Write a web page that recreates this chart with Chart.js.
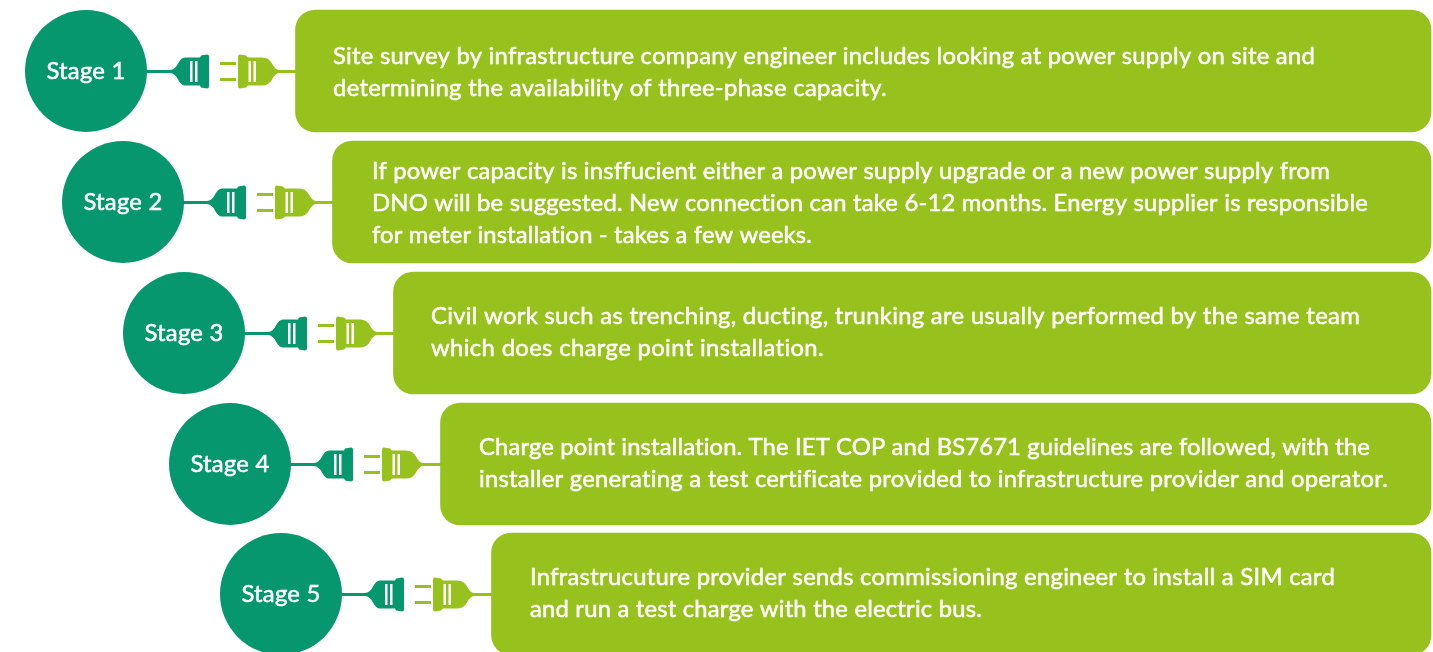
<!DOCTYPE html>
<html>
<head>
<meta charset="utf-8">
<title>Stages</title>
<script src="https://cdn.jsdelivr.net/npm/chart.js@4"></script>
<style>
    html, body { margin: 0; padding: 0; background: #fff; overflow: hidden; }
    canvas { display: block; }
</style>
</head>
<body>
<canvas id="stagechart" width="1433" height="652"></canvas>
<script>
const stageLabels = ['Stage 1', 'Stage 2', 'Stage 3', 'Stage 4', 'Stage 5'];
const stageX = [86, 123, 184, 230, 281];
const stageY = [71, 202, 333, 464, 594];
const boxStart = [295.5, 332.5, 393.5, 440.5, 491.5];
const boxEnd = [1431, 1431, 1431, 1431, 1431];
const textX = [333, 372, 431, 479, 530];
const textY = [[56.5, 88.5], [171.5, 203.5, 235.5], [316.5, 348.5], [447.5, 479.5], [577.5, 609.5]];
const textEnd = [[1315, 887], [1330, 1368, 812], [1360, 824], [1370, 1388], [1335, 982]];
const stageText = [
    ['Site survey by infrastructure company engineer includes looking at power supply on site and',
     'determining the availability of three-phase capacity.'],
    ['If power capacity is insffucient either a power supply upgrade or a new power supply from',
     'DNO will be suggested. New connection can take 6-12 months. Energy supplier is responsible',
     'for meter installation - takes a few weeks.'],
    ['Civil work such as trenching, ducting, trunking are usually performed by the same team',
     'which does charge point installation.'],
    ['Charge point installation. The IET COP and BS7671 guidelines are followed, with the',
     'installer generating a test certificate provided to infrastructure provider and operator.'],
    ['Infrastrucuture provider sends commissioning engineer to install a SIM card',
     'and run a test charge with the electric bus.']
];

const darkGreen = '#06976f';
const lightGreen = '#97c21e';
const fontName = 'Lato';

//Plug and socket between circle and box
const plugPlugin = {
    id: 'plugs',
    afterDatasetsDraw(chart) {
        const ctx = chart.ctx;
        stageX.forEach((sx, i) => {
            const x = chart.scales.x.getPixelForValue(sx);
            const y = chart.scales.y.getPixelForValue(stageY[i]) + 0.5;
            const p = (dx) => x + dx;

            //dark plug
            ctx.fillStyle = darkGreen;
            ctx.fillRect(p(60), y - 1.5, 27, 3);
            ctx.beginPath();
            ctx.moveTo(p(84), y - 1.5);
            ctx.quadraticCurveTo(p(89), y - 2, p(92), y - 8);
            ctx.quadraticCurveTo(p(95), y - 14, p(99), y - 14);
            ctx.lineTo(p(114), y - 14);
            ctx.lineTo(p(115), y - 16);
            ctx.lineTo(p(121), y - 17);
            ctx.quadraticCurveTo(p(123), y - 17, p(123), y - 15);
            ctx.lineTo(p(123), y + 15);
            ctx.quadraticCurveTo(p(123), y + 17, p(121), y + 17);
            ctx.lineTo(p(115), y + 16);
            ctx.lineTo(p(114), y + 14);
            ctx.lineTo(p(99), y + 14);
            ctx.quadraticCurveTo(p(95), y + 14, p(92), y + 8);
            ctx.quadraticCurveTo(p(89), y + 2, p(84), y + 1.5);
            ctx.closePath();
            ctx.fill();
            ctx.fillStyle = '#fff';
            ctx.fillRect(p(104), y - 10.5, 2.5, 21);
            ctx.fillRect(p(109), y - 10.5, 2.5, 21);

            //light plug with prongs
            ctx.fillStyle = lightGreen;
            ctx.fillRect(p(134), y - 9.5, 16, 3);
            ctx.fillRect(p(134), y + 6.5, 16, 3);
            ctx.fillRect(p(190), y - 1.5, 21, 3);
            ctx.beginPath();
            ctx.moveTo(p(193), y - 1.5);
            ctx.quadraticCurveTo(p(189), y - 2, p(186), y - 8);
            ctx.quadraticCurveTo(p(183), y - 14, p(176), y - 14);
            ctx.lineTo(p(162), y - 14);
            ctx.lineTo(p(160), y - 16);
            ctx.lineTo(p(154), y - 17);
            ctx.quadraticCurveTo(p(152), y - 17, p(152), y - 15);
            ctx.lineTo(p(152), y + 15);
            ctx.quadraticCurveTo(p(152), y + 17, p(154), y + 17);
            ctx.lineTo(p(160), y + 16);
            ctx.lineTo(p(162), y + 14);
            ctx.lineTo(p(176), y + 14);
            ctx.quadraticCurveTo(p(183), y + 14, p(186), y + 8);
            ctx.quadraticCurveTo(p(189), y + 2, p(193), y + 1.5);
            ctx.closePath();
            ctx.fill();
            ctx.fillStyle = '#fff';
            ctx.fillRect(p(162.5), y - 10.5, 2.5, 21);
            ctx.fillRect(p(167.5), y - 10.5, 2.5, 21);
        });
    }
};

//Text on the circles and boxes
const textPlugin = {
    id: 'stagetext',
    afterDraw(chart) {
        const ctx = chart.ctx;
        const sx = chart.scales.x;
        const sy = chart.scales.y;
        ctx.save();
        ctx.fillStyle = '#fff';
        ctx.strokeStyle = '#fff';
        ctx.lineWidth = 0.5;
        ctx.textBaseline = 'middle';
        ctx.font = '23.8px ' + fontName;
        stageLabels.forEach((label, i) => {
            const y = sy.getPixelForValue(stageY[i]);
            ctx.letterSpacing = '0.26px';
            ctx.textAlign = 'center';
            ctx.fillText(label, sx.getPixelForValue(stageX[i]), y);
            ctx.strokeText(label, sx.getPixelForValue(stageX[i]), y);

            ctx.textAlign = 'left';
            stageText[i].forEach((line, n) => {
                const left = sx.getPixelForValue(textX[i]);
                const lineY = sy.getPixelForValue(textY[i][n]);
                //spread the letters so the line ends where it does in the original
                ctx.letterSpacing = '0.1px';
                const width = ctx.measureText(line).width;
                const extra = (sx.getPixelForValue(textEnd[i][n]) - left - width) / line.length;
                ctx.letterSpacing = (0.1 + extra) + 'px';
                ctx.fillText(line, left, lineY);
                ctx.strokeText(line, left, lineY);
            });
        });
        ctx.restore();
    }
};

const stagechart = new Chart(document.getElementById('stagechart'), {
    type: 'bar',
    data: {
        datasets: [{
            label: 'Stage circle',
            type: 'scatter',
            data: stageX.map((x, i) => ({ x: x, y: stageY[i] })),
            pointRadius: 61,
            pointHoverRadius: 61,
            pointBorderWidth: 0,
            pointBackgroundColor: darkGreen
        }, {
            label: 'Stage box',
            data: stageY.map((y, i) => ({ x: [boxStart[i], boxEnd[i]], y: y })),
            backgroundColor: lightGreen,
            barThickness: 122,
            borderRadius: 20,
            borderSkipped: false
        }]
    },
    options: {
        indexAxis: 'y',
        responsive: false,
        animation: false,
        layout: { padding: 0, autoPadding: false },
        plugins: {
            legend: { display: false },
            tooltip: { enabled: false }
        },
        scales: {
            x: { type: 'linear', min: 0, max: 1433, display: false },
            y: { type: 'linear', min: 0, max: 652, reverse: true, offset: false, display: false }
        }
    },
    plugins: [plugPlugin, textPlugin]
});
</script>
</body>
</html>
